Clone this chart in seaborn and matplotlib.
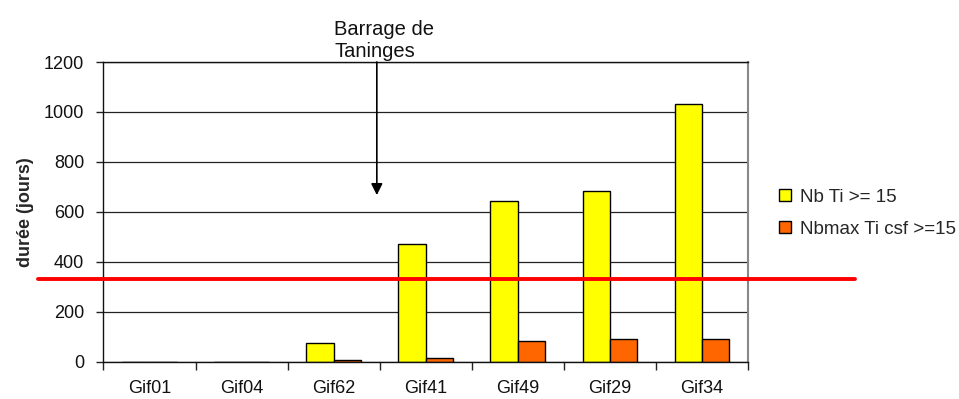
import numpy as np
import pandas as pd
import matplotlib
matplotlib.use("Agg")
import matplotlib.pyplot as plt
import seaborn as sns

stations = ["Gif01", "Gif04", "Gif62", "Gif41", "Gif49", "Gif29", "Gif34"]
nb_ti = [0, 0, 76, 470, 645, 685, 1032]
nbmax_ti_csf = [0, 0, 5, 13, 84, 90, 90]
series_names = ["Nb Ti >= 15", "Nbmax Ti csf >=15"]
y_ticks = [0, 200, 400, 600, 800, 1000, 1200]
threshold = 330
dam_position = 2.47
dam_arrow_tip = 667
dam_label = "Barrage de\nTaninges"

df = pd.DataFrame({
    "station": stations * 2,
    "serie": [series_names[0]] * len(stations) + [series_names[1]] * len(stations),
    "duree": nb_ti + nbmax_ti_csf,
})

sns.set_theme(style="white")
plt.rcParams["font.family"] = ["Liberation Sans", "DejaVu Sans"]

fig = plt.figure(figsize=(9.59, 3.99), dpi=100)
ax = fig.add_axes([0.1079, 0.0935, 0.6718, 0.7511])

sns.barplot(
    data=df, x="station", y="duree", hue="serie", order=stations,
    hue_order=series_names, palette=["#FFFF00", "#FF6600"],
    width=0.59, edgecolor="black", linewidth=1.0, saturation=1,
    ax=ax, legend=True,
)

ax.set_xlim(-0.5, len(stations) - 0.5)
ax.set_ylim(0, 1200)
ax.set_yticks(y_ticks)
ax.set_yticklabels([str(v) for v in y_ticks], fontsize=13, color="#111111")
ax.yaxis.grid(True, color="#222222", linewidth=0.9)
ax.set_axisbelow(True)

# category boundaries carry the ticks, labels sit at centers
ax.set_xticks(np.arange(len(stations)))
ax.set_xticklabels(stations, fontsize=13, color="#111111")
ax.set_xticks(np.arange(-0.5, len(stations), 1), minor=True)
ax.tick_params(axis="x", which="major", length=0, pad=13)
ax.tick_params(axis="x", which="minor", length=6, width=1, color="#222222", direction="out", bottom=True)
ax.tick_params(axis="y", length=5, width=1, color="#222222", direction="out", left=True, pad=9)

ax.set_xlabel("")
ax.set_ylabel("durée (jours)", fontsize=13, fontweight="bold", labelpad=7)

for side in ["left", "bottom", "top"]:
    ax.spines[side].set_color("#111111")
    ax.spines[side].set_linewidth(1.0)
ax.spines["right"].set_color("#888888")
ax.spines["right"].set_linewidth(1.5)

# threshold line reaching past the plot area
ax.plot([-0.102, 1.167], [threshold, threshold], color="#FF0000", linewidth=2.8,
        transform=ax.get_yaxis_transform(), clip_on=False, zorder=5)

# dam annotation
ax.annotate("", xy=(dam_position, dam_arrow_tip), xytext=(dam_position, 1200),
            arrowprops=dict(arrowstyle="-|>", color="black", lw=1.2,
                            mutation_scale=17, shrinkA=0, shrinkB=0),
            annotation_clip=False, zorder=6)
ax.text(dam_position - 0.46, 1203, dam_label, fontsize=14.5, ha="left", va="bottom",
        linespacing=1.2, color="#111111")

handles, labels = ax.get_legend_handles_labels()
ax.legend(handles, labels, loc="upper left", bbox_to_anchor=(0.805, 0.545),
          bbox_transform=fig.transFigure, frameon=False, fontsize=13.5,
          handlelength=0.6, handleheight=0.6, handletextpad=0.5,
          labelspacing=0.8, borderaxespad=0)

fig.savefig("out.png", dpi=100)
